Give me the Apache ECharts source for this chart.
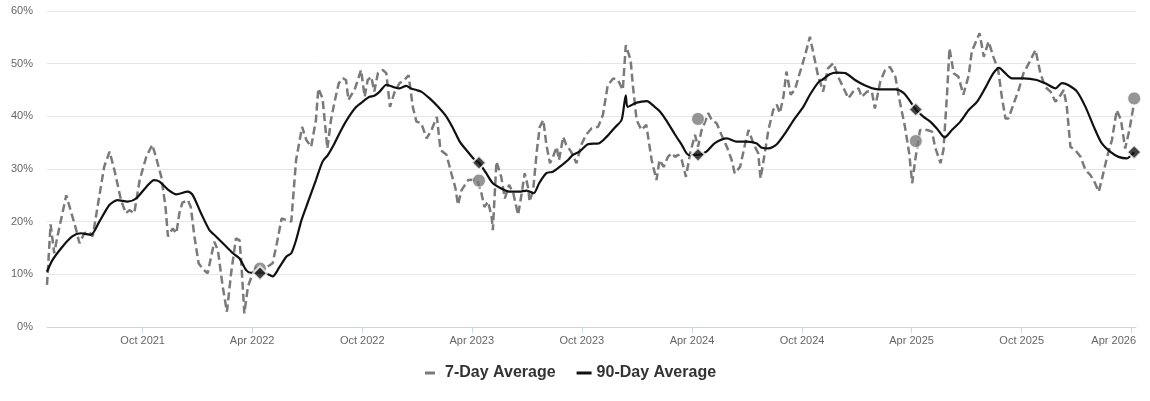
<!DOCTYPE html>
<html>
<head>
<meta charset="utf-8">
<script src="https://cdn.jsdelivr.net/npm/echarts@6/dist/echarts.min.js"></script>
<style>
html,body{margin:0;padding:0;background:#fff;}
#chart{width:1150px;height:401px;}
</style>
</head>
<body>
<div id="chart"></div>
<script>
// ---- Data ----
const sevenDayDates = ['2021-04-25','2021-05-01','2021-05-07','2021-05-12','2021-05-27','2021-06-11','2021-06-18','2021-06-26','2021-07-04','2021-07-10','2021-07-18','2021-07-29','2021-08-07','2021-08-15','2021-08-26','2021-09-03','2021-09-09','2021-09-17','2021-09-26','2021-10-07','2021-10-17','2021-10-23','2021-11-01','2021-11-08','2021-11-12','2021-11-20','2021-11-26','2021-12-01','2021-12-06','2021-12-15','2021-12-20','2021-12-26','2022-01-02','2022-01-09','2022-01-17','2022-01-28','2022-02-03','2022-02-11','2022-02-18','2022-02-25','2022-03-05','2022-03-11','2022-03-14','2022-03-19','2022-03-25','2022-04-02','2022-04-10','2022-04-19','2022-04-27','2022-05-05','2022-05-12','2022-05-20','2022-05-28','2022-06-05','2022-06-13','2022-06-23','2022-06-30','2022-07-08','2022-07-16','2022-07-20','2022-07-27','2022-08-04','2022-08-10','2022-08-16','2022-08-23','2022-08-30','2022-09-04','2022-09-08','2022-09-19','2022-09-29','2022-10-05','2022-10-10','2022-10-16','2022-10-21','2022-10-27','2022-11-04','2022-11-10','2022-11-16','2022-11-24','2022-12-02','2022-12-10','2022-12-17','2022-12-24','2022-12-30','2023-01-07','2023-01-16','2023-01-24','2023-02-02','2023-02-08','2023-02-18','2023-02-26','2023-03-05','2023-03-09','2023-03-15','2023-03-26','2023-04-10','2023-04-17','2023-04-22','2023-04-28','2023-05-04','2023-05-06','2023-05-12','2023-05-20','2023-05-26','2023-06-02','2023-06-09','2023-06-17','2023-06-23','2023-06-28','2023-07-04','2023-07-06','2023-07-12','2023-07-18','2023-07-23','2023-07-29','2023-08-03','2023-08-09','2023-08-14','2023-08-20','2023-08-24','2023-08-31','2023-09-05','2023-09-13','2023-09-22','2023-09-30','2023-10-08','2023-10-17','2023-10-28','2023-11-05','2023-11-13','2023-11-22','2023-11-30','2023-12-08','2023-12-13','2023-12-21','2023-12-25','2023-12-31','2024-01-08','2024-01-16','2024-01-25','2024-02-02','2024-02-07','2024-02-14','2024-02-21','2024-02-27','2024-03-04','2024-03-09','2024-03-15','2024-03-22','2024-03-29','2024-04-06','2024-04-11','2024-04-17','2024-04-23','2024-04-28','2024-05-04','2024-05-12','2024-05-20','2024-05-29','2024-06-06','2024-06-11','2024-06-20','2024-06-28','2024-07-04','2024-07-12','2024-07-20','2024-07-24','2024-07-31','2024-08-06','2024-08-14','2024-08-20','2024-08-25','2024-08-31','2024-09-05','2024-09-12','2024-09-19','2024-09-26','2024-10-06','2024-10-14','2024-10-21','2024-10-27','2024-11-05','2024-11-13','2024-11-22','2024-11-30','2024-12-08','2024-12-17','2024-12-25','2025-01-03','2025-01-08','2025-01-17','2025-01-25','2025-01-30','2025-02-08','2025-02-16','2025-02-24','2025-03-05','2025-03-13','2025-03-21','2025-03-28','2025-04-02','2025-04-07','2025-04-15','2025-04-27','2025-05-05','2025-05-10','2025-05-19','2025-05-24','2025-05-30','2025-06-03','2025-06-10','2025-06-18','2025-06-26','2025-07-05','2025-07-10','2025-07-23','2025-07-30','2025-08-07','2025-08-15','2025-08-23','2025-08-29','2025-09-04','2025-09-09','2025-09-18','2025-09-26','2025-10-04','2025-10-13','2025-10-24','2025-11-01','2025-11-09','2025-11-18','2025-11-26','2025-12-01','2025-12-10','2025-12-15','2025-12-21','2025-12-29','2026-01-07','2026-01-15','2026-01-23','2026-01-31','2026-02-06','2026-02-11','2026-02-20','2026-02-28','2026-03-08','2026-03-15','2026-03-22','2026-03-29','2026-04-05'];
const sevenDayValues = [8.0,19.5,14.0,17.0,25.0,19.1,15.9,17.8,18.1,17.2,22.8,30.4,33.3,29.8,24.1,21.6,22.2,21.6,27.9,32.3,34.6,32.3,28.5,22.8,17.2,18.7,17.8,21.6,23.6,24.1,22.8,17.2,12.1,11.0,10.2,16.2,14.6,7.7,2.9,10.2,16.8,16.5,12.1,2.6,7.7,10.2,11.8,10.8,11.5,12.1,15.9,20.6,20.3,20.0,31.7,38.0,35.5,34.2,39.3,45.3,43.4,33.9,39.3,42.8,46.3,47.2,46.9,43.1,45.3,48.8,43.7,46.9,47.5,44.7,48.2,48.8,48.2,41.8,44.7,46.3,46.9,47.8,41.8,39.0,38.7,35.8,37.4,39.9,33.6,32.7,29.2,26.3,23.2,26.0,27.9,28.0,25.4,22.8,23.8,21.0,18.4,31.4,28.5,24.4,27.0,25.4,21.3,25.4,29.2,26.3,23.8,26.0,33.3,38.0,39.3,34.6,31.1,32.3,34.2,31.7,36.1,34.6,33.3,31.1,34.6,36.5,37.7,38.0,40.3,45.9,47.2,46.9,45.0,53.5,50.7,45.6,39.3,37.4,38.4,31.7,27.9,31.7,30.4,32.3,33.0,32.3,32.7,31.7,28.5,33.0,36.5,34.2,37.4,39.0,40.6,39.3,38.7,36.5,34.2,31.7,29.2,30.4,34.6,37.4,34.9,33.0,28.2,33.0,37.4,41.2,42.2,40.6,43.7,48.5,44.1,45.0,47.8,51.6,55.1,51.3,48.0,44.7,49.1,50.1,47.5,45.6,43.4,44.7,45.3,43.7,44.7,44.7,41.5,46.6,48.8,49.4,47.5,42.5,38.0,33.0,27.3,31.7,37.4,37.4,37.1,34.2,31.1,33.6,44.4,52.9,48.2,47.5,44.1,47.8,52.3,55.8,51.3,54.2,51.3,48.8,43.7,39.6,39.6,42.5,45.0,48.2,50.1,52.6,48.2,45.6,44.7,42.8,43.4,45.0,41.8,34.2,33.6,32.3,29.8,28.9,27.3,25.7,27.9,32.3,35.5,41.2,39.3,33.9,37.4,42.0];

const ninetyDayDates = ['2021-04-25','2021-05-04','2021-05-21','2021-06-06','2021-06-20','2021-07-07','2021-07-21','2021-08-07','2021-08-20','2021-09-06','2021-09-20','2021-10-07','2021-10-20','2021-10-29','2021-11-12','2021-11-26','2021-12-15','2021-12-23','2022-01-06','2022-01-20','2022-01-31','2022-02-14','2022-02-28','2022-03-11','2022-03-22','2022-03-30','2022-04-14','2022-04-24','2022-05-05','2022-05-16','2022-05-28','2022-06-05','2022-06-13','2022-06-22','2022-07-03','2022-07-16','2022-07-27','2022-08-05','2022-08-16','2022-08-27','2022-09-07','2022-09-21','2022-10-02','2022-10-13','2022-10-21','2022-10-30','2022-11-10','2022-11-21','2022-12-02','2022-12-13','2022-12-21','2022-12-30','2023-01-07','2023-01-21','2023-02-04','2023-02-18','2023-03-01','2023-03-12','2023-03-23','2023-04-06','2023-04-13','2023-04-25','2023-05-06','2023-05-20','2023-06-02','2023-06-19','2023-07-01','2023-07-13','2023-07-22','2023-08-03','2023-08-14','2023-08-25','2023-09-08','2023-09-16','2023-09-27','2023-10-11','2023-10-30','2023-11-11','2023-11-25','2023-12-06','2023-12-13','2023-12-16','2023-12-31','2024-01-17','2024-01-30','2024-02-07','2024-02-18','2024-03-04','2024-03-15','2024-03-26','2024-04-11','2024-04-25','2024-05-09','2024-05-29','2024-06-14','2024-07-01','2024-07-17','2024-07-25','2024-08-06','2024-08-20','2024-09-03','2024-09-17','2024-10-03','2024-10-14','2024-10-29','2024-11-03','2024-11-16','2024-11-28','2024-12-12','2024-12-28','2025-01-13','2025-01-30','2025-02-16','2025-03-05','2025-03-19','2025-03-30','2025-04-08','2025-04-21','2025-05-02','2025-05-13','2025-05-26','2025-06-07','2025-06-21','2025-07-05','2025-07-19','2025-08-01','2025-08-15','2025-08-25','2025-09-01','2025-09-15','2025-10-04','2025-10-26','2025-11-12','2025-11-26','2025-12-07','2025-12-18','2026-01-01','2026-01-15','2026-01-29','2026-02-11','2026-02-25','2026-03-11','2026-03-25','2026-03-29','2026-04-06'];
const ninetyDayValues = [10.5,12.7,15.3,17.2,17.8,17.5,20.0,23.2,24.1,23.8,24.4,26.6,27.9,27.6,26.1,25.2,25.7,25.1,21.6,18.4,17.2,15.6,14.0,13.0,10.8,10.3,10.3,10.2,9.6,11.3,13.4,14.0,16.5,20.3,23.8,27.9,31.4,32.7,34.9,37.4,39.6,41.8,42.8,43.7,43.9,44.7,46.0,45.6,45.3,45.8,45.3,45.0,44.7,43.4,41.8,39.9,37.7,35.2,33.6,31.7,31.2,29.2,27.3,26.3,25.7,25.7,25.9,25.4,27.3,29.2,29.5,30.4,31.7,32.7,33.3,34.7,34.9,36.1,37.9,39.3,44.0,41.8,42.6,42.9,41.8,41.0,39.3,36.5,34.6,32.7,32.7,33.3,34.9,35.8,35.2,35.2,34.9,34.1,33.9,34.7,36.8,39.3,41.8,44.1,46.6,46.9,48.0,48.3,48.2,46.9,45.9,45.2,45.1,45.1,44.4,42.8,41.3,39.9,39.0,37.7,36.0,37.4,39.0,41.2,42.8,45.3,48.2,49.2,48.5,47.2,47.2,46.9,46.1,45.3,46.3,45.9,44.7,41.8,38.0,34.9,33.3,32.3,32.0,32.3,33.2];

const markerDates = ['2022-04-14','2023-04-13','2024-04-11','2025-04-08','2026-04-06'];
const circleValues = [11.1, 27.8, 39.5, 35.3, 43.4];
const diamondValues = [10.2, 31.2, 32.7, 41.3, 33.2];

const tickDates = ['2021-10-01','2022-04-01','2022-10-01','2023-04-01','2023-10-01','2024-04-01','2024-10-01','2025-04-01','2025-10-01','2026-04-01'];
const axisStart = '2021-04-25';
const axisEnd = '2026-04-09';
const monthNames = ['Jan','Feb','Mar','Apr','May','Jun','Jul','Aug','Sep','Oct','Nov','Dec'];

const ts = d => Date.parse(d + 'T00:00:00Z');
const zip = (a, b) => a.map((d, i) => [ts(d), b[i]]);
const tickValues = tickDates.map(ts);
const lastTick = tickValues[tickValues.length - 1];

const chart = echarts.init(document.getElementById('chart'), null, {renderer: 'canvas'});
chart.setOption({
  animation: false,
  backgroundColor: '#ffffff',
  textStyle: {fontFamily: '"Liberation Sans", Arial, Helvetica, sans-serif'},
  grid: {left: 47, right: 14, top: 11, bottom: 74, containLabel: false, outerBoundsMode: 'none'},
  legend: {
    bottom: 15,
    left: 420,
    itemGap: 21,
    itemWidth: 15,
    itemHeight: 3,
    data: [
      {name: '7-Day Average', icon: 'path://M0,0H10V3H0Z M14.9,0H15V3H14.9Z', itemStyle: {color: '#7a7a7a', opacity: 1}},
      {name: '90-Day Average', icon: 'rect', itemStyle: {color: '#111'}}
    ],
    textStyle: {fontSize: 16, fontWeight: 'bold', color: '#333', fontFamily: '"Liberation Sans", Arial, sans-serif'}
  },
  xAxis: {
    type: 'value',
    min: ts(axisStart),
    max: ts(axisEnd),
    axisLine: {show: true, lineStyle: {color: '#ccd6eb'}},
    axisTick: {show: true, length: 6, lineStyle: {color: '#ccd6eb'}, customValues: tickValues},
    axisLabel: {
      customValues: tickValues,
      color: '#666',
      fontSize: 11,
      margin: 8,
      formatter: function (v) {
        const d = new Date(v);
        const s = monthNames[d.getUTCMonth()] + ' ' + d.getUTCFullYear();
        return v === lastTick ? '{last|' + s + '}' : s;
      },
      rich: {last: {color: '#666', fontSize: 11, padding: [0, 35, 0, 0]}}
    },
    splitLine: {show: false}
  },
  yAxis: {
    type: 'value',
    min: 0,
    max: 60,
    interval: 10,
    axisLine: {show: false},
    axisTick: {show: false},
    axisLabel: {formatter: '{value}%', color: '#666', fontSize: 11, margin: 14},
    splitLine: {lineStyle: {color: '#e6e6e6', width: 1}}
  },
  series: [
    {
      name: '7-Day Average',
      type: 'line',
      data: zip(sevenDayDates, sevenDayValues),
      showSymbol: false,
      symbol: 'none',
      color: '#7a7a7a',
      lineStyle: {color: '#7a7a7a', width: 2.5, type: [8, 4]},
      z: 2
    },
    {
      name: '90-Day Average',
      type: 'line',
      data: zip(ninetyDayDates, ninetyDayValues),
      showSymbol: false,
      symbol: 'none',
      smooth: 0.25,
      color: '#111',
      lineStyle: {color: '#111', width: 2.2},
      z: 3
    },
    {
      name: 'circles',
      type: 'scatter',
      data: zip(markerDates, circleValues),
      symbol: 'circle',
      symbolSize: 13,
      itemStyle: {color: '#7a7a7a', borderColor: '#fff', borderWidth: 1},
      z: 4
    },
    {
      name: 'diamonds',
      type: 'scatter',
      data: zip(markerDates, diamondValues),
      symbol: 'diamond',
      symbolSize: 14,
      itemStyle: {color: '#111', borderColor: '#fff', borderWidth: 2},
      z: 5
    }
  ]
});
</script>
</body>
</html>
